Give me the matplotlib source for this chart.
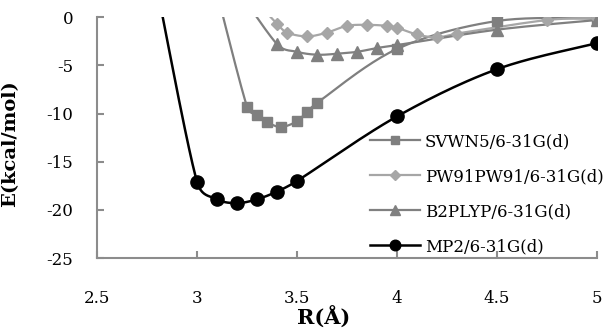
import numpy as np
import matplotlib
matplotlib.use("Agg")
import matplotlib.pyplot as plt

plt.rcParams['font.family'] = ['DejaVu Serif']
plt.rcParams['axes.unicode_minus'] = False

# data (first point of each series lies above the plot)
svwn_r = [3.10, 3.25, 3.30, 3.35, 3.42, 3.50, 3.55, 3.60, 4.00, 4.50, 5.00]
svwn_e = [2.5, -9.3, -10.2, -10.9, -11.4, -10.8, -9.8, -8.9, -3.3, -0.4, -0.15]

pw91_r = [3.30, 3.40, 3.45, 3.55, 3.65, 3.75, 3.85, 3.95, 4.00, 4.10, 4.20, 4.30, 4.75, 5.00]
pw91_e = [1.5, -0.7, -1.6, -2.0, -1.6, -0.9, -0.8, -0.9, -1.1, -1.8, -2.1, -1.7, -0.3, -0.1]

b2_r = [3.20, 3.40, 3.50, 3.60, 3.70, 3.80, 3.90, 4.00, 4.50, 5.00]
b2_e = [3.0, -2.8, -3.6, -3.9, -3.8, -3.6, -3.2, -2.9, -1.3, -0.3]

mp2_r = [2.80, 3.00, 3.10, 3.20, 3.30, 3.40, 3.50, 4.00, 4.50, 5.00]
mp2_e = [3.0, -17.1, -18.9, -19.3, -18.9, -18.1, -17.0, -10.3, -5.4, -2.7]

labels = ["SVWN5/6-31G(d)", "PW91PW91/6-31G(d)", "B2PLYP/6-31G(d)", "MP2/6-31G(d)"]


def smooth(x, y, n=24):
    # Excel-like smoothed line (Bezier through the points), only for drawing
    sx, sy = 400.0, 9.64
    p = np.column_stack([np.asarray(x) * sx, np.asarray(y) * sy])

    def clamp(v, seg):
        L = np.hypot(*v)
        lim = np.hypot(*seg) / 2.5
        return v if L <= lim or L == 0 else v * lim / L

    pts = [p[0]]
    for i in range(len(p) - 1):
        p0 = p[i - 1] if i > 0 else p[i]
        p1, p2 = p[i], p[i + 1]
        p3 = p[i + 2] if i + 2 < len(p) else p[i + 1]
        c1 = p1 + clamp((p2 - p0) / 6.0, p2 - p1)
        c2 = p2 - clamp((p3 - p1) / 6.0, p2 - p1)
        t = np.linspace(0, 1, n)[1:, None]
        seg = ((1 - t) ** 3) * p1 + 3 * ((1 - t) ** 2) * t * c1 \
            + 3 * (1 - t) * t ** 2 * c2 + t ** 3 * p2
        pts.extend(seg)
    pts = np.array(pts)
    return pts[:, 0] / sx, pts[:, 1] / sy


fig = plt.figure(figsize=(6.11, 3.36), dpi=100)
ax = fig.add_axes([0.1588, 0.232, 0.8184, 0.717])

series = [
    (svwn_r, svwn_e, '#7f7f7f', 's', 7.5, 1.6),
    (pw91_r, pw91_e, '#a6a6a6', 'D', 6.5, 1.6),
    (b2_r, b2_e, '#808080', '^', 8.5, 1.6),
    (mp2_r, mp2_e, '#000000', 'o', 9.5, 1.8),
]

handles = []
for (r, e, c, m, ms, lw), lab in zip(series, labels):
    xs, ys = smooth(r, e)
    ax.plot(xs, ys, color=c, lw=lw, zorder=2)
    ax.plot(r, e, ls='none', marker=m, ms=ms, color=c, mec=c, zorder=3)
    h, = ax.plot([], [], color=c, lw=lw, marker=m, ms=ms * 0.8, mec=c)
    handles.append(h)

ax.set_xlim(2.5, 5)
ax.set_ylim(-25, 0)
ax.set_xticks([2.5, 3, 3.5, 4, 4.5, 5])
ax.set_xticklabels(['2.5', '3', '3.5', '4', '4.5', '5'])
ax.set_yticks([0, -5, -10, -15, -20, -25])
ax.set_yticklabels(['0', '-5', '-10', '-15', '-20', '-25'])

for s in ['top', 'right']:
    ax.spines[s].set_visible(False)
for s in ['left', 'bottom']:
    ax.spines[s].set_color('#8c8c8c')
    ax.spines[s].set_linewidth(1.5)

ax.tick_params(axis='both', direction='in', length=5, width=1.5,
               color='#8c8c8c', labelsize=12)
ax.tick_params(axis='y', pad=17)
ax.tick_params(axis='x', pad=23)

ax.set_xlabel('R(Å)', fontsize=15, fontweight='bold')
ax.xaxis.set_label_coords(0.454, -0.2)
ax.set_ylabel('E(kcal/mol)', fontsize=14, fontweight='bold')
ax.yaxis.set_label_coords(-0.155, 0.475)

leg = ax.legend(handles, labels, loc='upper left', bbox_to_anchor=(0.546, 0.518),
                frameon=False, fontsize=12, handlelength=3.0, handletextpad=0.3,
                labelspacing=1.08, borderaxespad=0, borderpad=0)

fig.savefig('out.png', dpi=100)
